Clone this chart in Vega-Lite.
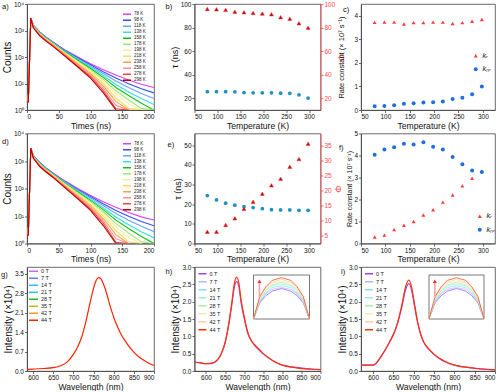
{
"$schema": "https://vega.github.io/schema/vega-lite/v6.json",
"padding": {"left": 0, "top": 0, "right": 0, "bottom": 0},
"background": "white",
"config": {
  "font": "Liberation Sans",
  "view": {"stroke": "#444", "strokeWidth": 0.8},
  "axis": {"labelFontSize": 6.5, "titleFontSize": 8.6, "titleFontWeight": "normal", "labelColor": "#111", "titleColor": "#111", "domainColor": "#444", "tickColor": "#444", "tickSize": 2.5, "grid": false, "labelPadding": 1, "titlePadding": 1, "domainWidth": 0.8, "tickWidth": 0.8},
  "title": {"fontSize": 7.5, "fontWeight": "normal", "anchor": "start", "frame": "group", "color": "#111"},
  "legend": {"title": null, "padding": 0, "labelColor": "#222"}
},
"datasets": {
  "decay": [
    {"T":78,"t":0,"c":2},{"T":78,"t":2,"c":2},{"T":78,"t":6,"c":2950},{"T":78,"t":10,"c":1585},{"T":78,"t":20,"c":891},{"T":78,"t":30,"c":562},{"T":78,"t":40,"c":380},{"T":78,"t":50,"c":263},{"T":78,"t":60,"c":186},{"T":78,"t":80,"c":100},{"T":78,"t":100,"c":56},{"T":78,"t":120,"c":33},{"T":78,"t":140,"c":21},{"T":78,"t":160,"c":13.5},{"T":78,"t":180,"c":9.3},{"T":78,"t":200,"c":7.1},
    {"T":98,"t":0,"c":2},{"T":98,"t":2,"c":2},{"T":98,"t":6,"c":2950},{"T":98,"t":10,"c":1556},{"T":98,"t":20,"c":867},{"T":98,"t":30,"c":547},{"T":98,"t":40,"c":369},{"T":98,"t":50,"c":254},{"T":98,"t":60,"c":178},{"T":98,"t":80,"c":93},{"T":98,"t":100,"c":51},{"T":98,"t":120,"c":28},{"T":98,"t":140,"c":16},{"T":98,"t":160,"c":9.7},{"T":98,"t":180,"c":6.3},{"T":98,"t":200,"c":4.4},
    {"T":118,"t":0,"c":2},{"T":118,"t":2,"c":2},{"T":118,"t":6,"c":2950},{"T":118,"t":10,"c":1528},{"T":118,"t":20,"c":843},{"T":118,"t":30,"c":532},{"T":118,"t":40,"c":358},{"T":118,"t":50,"c":244},{"T":118,"t":60,"c":170},{"T":118,"t":80,"c":87},{"T":118,"t":100,"c":46},{"T":118,"t":120,"c":24},{"T":118,"t":140,"c":12.4},{"T":118,"t":160,"c":7},{"T":118,"t":180,"c":4.2},{"T":118,"t":200,"c":2.7},
    {"T":138,"t":0,"c":2},{"T":138,"t":2,"c":2},{"T":138,"t":6,"c":2950},{"T":138,"t":10,"c":1496},{"T":138,"t":20,"c":818},{"T":138,"t":30,"c":516},{"T":138,"t":40,"c":347},{"T":138,"t":50,"c":234},{"T":138,"t":60,"c":161},{"T":138,"t":80,"c":80},{"T":138,"t":100,"c":41},{"T":138,"t":120,"c":20},{"T":138,"t":140,"c":9.2},{"T":138,"t":160,"c":4.8},{"T":138,"t":180,"c":2.7},{"T":138,"t":200,"c":1.6},
    {"T":158,"t":0,"c":2},{"T":158,"t":2,"c":2},{"T":158,"t":6,"c":2950},{"T":158,"t":10,"c":1469},{"T":158,"t":20,"c":794},{"T":158,"t":30,"c":501},{"T":158,"t":40,"c":337},{"T":158,"t":50,"c":226},{"T":158,"t":60,"c":154},{"T":158,"t":80,"c":75},{"T":158,"t":100,"c":37},{"T":158,"t":120,"c":17},{"T":158,"t":140,"c":7.1},{"T":158,"t":160,"c":3.5},{"T":158,"t":180,"c":1.8},{"T":158,"t":200,"c":1},
    {"T":178,"t":0,"c":2},{"T":178,"t":2,"c":2},{"T":178,"t":6,"c":2950},{"T":178,"t":10,"c":1439},{"T":178,"t":20,"c":771},{"T":178,"t":30,"c":486},{"T":178,"t":40,"c":326},{"T":178,"t":50,"c":217},{"T":178,"t":60,"c":146},{"T":178,"t":80,"c":69},{"T":178,"t":100,"c":33},{"T":178,"t":120,"c":14.3},{"T":178,"t":140,"c":5.3},{"T":178,"t":160,"c":2.4},{"T":178,"t":180,"c":1.15},{"T":178,"t":200,"c":1},
    {"T":198,"t":0,"c":2},{"T":198,"t":2,"c":2},{"T":198,"t":6,"c":2950},{"T":198,"t":10,"c":1413},{"T":198,"t":20,"c":750},{"T":198,"t":30,"c":473},{"T":198,"t":40,"c":316},{"T":198,"t":50,"c":209},{"T":198,"t":60,"c":140},{"T":198,"t":80,"c":65},{"T":198,"t":100,"c":30},{"T":198,"t":120,"c":12.2},{"T":198,"t":140,"c":4.1},{"T":198,"t":160,"c":1.7},{"T":198,"t":180,"c":1},
    {"T":218,"t":0,"c":2},{"T":218,"t":2,"c":2},{"T":218,"t":6,"c":2950},{"T":218,"t":10,"c":1380},{"T":218,"t":20,"c":724},{"T":218,"t":30,"c":457},{"T":218,"t":40,"c":305},{"T":218,"t":50,"c":200},{"T":218,"t":60,"c":132},{"T":218,"t":80,"c":59},{"T":218,"t":100,"c":26},{"T":218,"t":120,"c":10},{"T":218,"t":140,"c":2.9},{"T":218,"t":160,"c":1.15},{"T":218,"t":180,"c":1},
    {"T":238,"t":0,"c":2},{"T":238,"t":2,"c":2},{"T":238,"t":6,"c":2950},{"T":238,"t":10,"c":1349},{"T":238,"t":20,"c":700},{"T":238,"t":30,"c":442},{"T":238,"t":40,"c":294},{"T":238,"t":50,"c":191},{"T":238,"t":60,"c":124},{"T":238,"t":80,"c":54},{"T":238,"t":100,"c":23},{"T":238,"t":120,"c":8.1},{"T":238,"t":140,"c":2.1},{"T":238,"t":160,"c":1},
    {"T":258,"t":0,"c":2},{"T":258,"t":2,"c":2},{"T":258,"t":6,"c":2950},{"T":258,"t":10,"c":1318},{"T":258,"t":20,"c":676},{"T":258,"t":30,"c":427},{"T":258,"t":40,"c":283},{"T":258,"t":50,"c":182},{"T":258,"t":60,"c":117},{"T":258,"t":80,"c":50},{"T":258,"t":100,"c":20},{"T":258,"t":120,"c":6.7},{"T":258,"t":140,"c":1.5},{"T":258,"t":160,"c":1},
    {"T":278,"t":0,"c":2},{"T":278,"t":2,"c":2},{"T":278,"t":6,"c":2950},{"T":278,"t":10,"c":1288},{"T":278,"t":20,"c":653},{"T":278,"t":30,"c":412},{"T":278,"t":40,"c":273},{"T":278,"t":50,"c":174},{"T":278,"t":60,"c":111},{"T":278,"t":80,"c":45},{"T":278,"t":100,"c":18},{"T":278,"t":120,"c":5.5},{"T":278,"t":140,"c":1.1},{"T":278,"t":160,"c":1},
    {"T":298,"t":0,"c":2},{"T":298,"t":2,"c":2},{"T":298,"t":6,"c":2950},{"T":298,"t":10,"c":1259},{"T":298,"t":20,"c":631},{"T":298,"t":30,"c":398},{"T":298,"t":40,"c":263},{"T":298,"t":50,"c":166},{"T":298,"t":60,"c":105},{"T":298,"t":80,"c":42},{"T":298,"t":100,"c":16},{"T":298,"t":120,"c":4.5},{"T":298,"t":140,"c":1}
  ],
  "tb": [
    {"T":78,"tau":25.6,"phi":95.8},{"T":98,"tau":25.6,"phi":95.5},{"T":118,"tau":25.6,"phi":95.0},{"T":138,"tau":25.4,"phi":93.5},{"T":158,"tau":24.8,"phi":93.0},{"T":178,"tau":24.6,"phi":92.4},{"T":198,"tau":24.6,"phi":91.9},{"T":218,"tau":24.6,"phi":91.3},{"T":238,"tau":24.3,"phi":88.8},{"T":258,"tau":24.2,"phi":87.4},{"T":278,"tau":22.9,"phi":83.7},{"T":298,"tau":20.1,"phi":79.8}
  ],
  "te": [
    {"T":78,"tau":24.4,"phi":6.1},{"T":98,"tau":22.2,"phi":6.1},{"T":118,"tau":20.5,"phi":8.4},{"T":138,"tau":19.5,"phi":10.6},{"T":158,"tau":18.8,"phi":13.8},{"T":178,"tau":18.3,"phi":16.1},{"T":198,"tau":17.7,"phi":18.8},{"T":218,"tau":17.2,"phi":21.6},{"T":238,"tau":17.1,"phi":23.8},{"T":258,"tau":17.1,"phi":27.8},{"T":278,"tau":16.9,"phi":30.4},{"T":298,"tau":16.9,"phi":35.5}
  ],
  "kc": [
    {"T":78,"k":"kr","v":3.72},{"T":98,"k":"kr","v":3.73},{"T":118,"k":"kr","v":3.73},{"T":138,"k":"kr","v":3.65},{"T":158,"k":"kr","v":3.71},{"T":178,"k":"kr","v":3.71},{"T":198,"k":"kr","v":3.73},{"T":218,"k":"kr","v":3.73},{"T":238,"k":"kr","v":3.67},{"T":258,"k":"kr","v":3.71},{"T":278,"k":"kr","v":3.77},{"T":298,"k":"kr","v":3.84},
    {"T":78,"k":"knr","v":0.16},{"T":98,"k":"knr","v":0.17},{"T":118,"k":"knr","v":0.2},{"T":138,"k":"knr","v":0.27},{"T":158,"k":"knr","v":0.29},{"T":178,"k":"knr","v":0.32},{"T":198,"k":"knr","v":0.33},{"T":218,"k":"knr","v":0.36},{"T":238,"k":"knr","v":0.47},{"T":258,"k":"knr","v":0.52},{"T":278,"k":"knr","v":0.67},{"T":298,"k":"knr","v":1.0}
  ],
  "kf": [
    {"T":78,"k":"kr","v":0.3},{"T":98,"k":"kr","v":0.38},{"T":118,"k":"kr","v":0.63},{"T":138,"k":"kr","v":0.83},{"T":158,"k":"kr","v":1.0},{"T":178,"k":"kr","v":1.3},{"T":198,"k":"kr","v":1.53},{"T":218,"k":"kr","v":1.88},{"T":238,"k":"kr","v":2.2},{"T":258,"k":"kr","v":2.62},{"T":278,"k":"kr","v":2.97},{"T":298,"k":"kr","v":3.28},
    {"T":78,"k":"knr","v":4.03},{"T":98,"k":"knr","v":4.27},{"T":118,"k":"knr","v":4.38},{"T":138,"k":"knr","v":4.53},{"T":158,"k":"knr","v":4.5},{"T":178,"k":"knr","v":4.6},{"T":198,"k":"knr","v":4.4},{"T":218,"k":"knr","v":4.27},{"T":238,"k":"knr","v":3.93},{"T":258,"k":"knr","v":3.6},{"T":278,"k":"knr","v":3.32},{"T":298,"k":"knr","v":3.25}
  ],
  "pg": [
    {"B":44,"w":585,"v":0.06},{"B":44,"w":600,"v":0.07},{"B":44,"w":625,"v":0.09},{"B":44,"w":650,"v":0.12},{"B":44,"w":670,"v":0.2},{"B":44,"w":685,"v":0.33},{"B":44,"w":700,"v":0.6},{"B":44,"w":710,"v":0.85},{"B":44,"w":720,"v":1.2},{"B":44,"w":730,"v":1.72},{"B":44,"w":740,"v":2.37},{"B":44,"w":750,"v":2.98},{"B":44,"w":757,"v":3.28},{"B":44,"w":763,"v":3.37},{"B":44,"w":768,"v":3.33},{"B":44,"w":775,"v":3.12},{"B":44,"w":780,"v":2.92},{"B":44,"w":790,"v":2.4},{"B":44,"w":800,"v":1.94},{"B":44,"w":810,"v":1.58},{"B":44,"w":820,"v":1.28},{"B":44,"w":830,"v":1.05},{"B":44,"w":840,"v":0.85},{"B":44,"w":850,"v":0.68},{"B":44,"w":860,"v":0.54},{"B":44,"w":870,"v":0.43},{"B":44,"w":885,"v":0.3},{"B":44,"w":900,"v":0.2}
  ],
  "ph": [
    {"B":0,"w":570,"v":0.26},{"B":0,"w":600,"v":0.21},{"B":0,"w":620,"v":0.24},{"B":0,"w":640,"v":0.5},{"B":0,"w":650,"v":0.8},{"B":0,"w":660,"v":1.35},{"B":0,"w":668,"v":1.93},{"B":0,"w":674,"v":2.4},{"B":0,"w":680,"v":2.58},{"B":0,"w":686,"v":2.44},{"B":0,"w":692,"v":1.97},{"B":0,"w":700,"v":1.53},{"B":0,"w":710,"v":1.07},{"B":0,"w":720,"v":0.85},{"B":0,"w":750,"v":0.5},{"B":0,"w":800,"v":0.17},{"B":0,"w":900,"v":0.04},
    {"B":44,"w":570,"v":0.26},{"B":44,"w":585,"v":0.24},{"B":44,"w":600,"v":0.21},{"B":44,"w":610,"v":0.21},{"B":44,"w":620,"v":0.24},{"B":44,"w":630,"v":0.32},{"B":44,"w":640,"v":0.5},{"B":44,"w":650,"v":0.82},{"B":44,"w":660,"v":1.39},{"B":44,"w":668,"v":2.0},{"B":44,"w":674,"v":2.5},{"B":44,"w":680,"v":2.71},{"B":44,"w":686,"v":2.55},{"B":44,"w":692,"v":2.05},{"B":44,"w":700,"v":1.58},{"B":44,"w":710,"v":1.1},{"B":44,"w":720,"v":0.86},{"B":44,"w":730,"v":0.73},{"B":44,"w":740,"v":0.62},{"B":44,"w":750,"v":0.5},{"B":44,"w":775,"v":0.3},{"B":44,"w":800,"v":0.17},{"B":44,"w":825,"v":0.11},{"B":44,"w":850,"v":0.07},{"B":44,"w":875,"v":0.05},{"B":44,"w":900,"v":0.04}
  ],
  "pi": [
    {"B":0,"w":570,"v":0.17},{"B":0,"w":600,"v":0.17},{"B":0,"w":620,"v":0.43},{"B":0,"w":640,"v":0.83},{"B":0,"w":660,"v":1.37},{"B":0,"w":670,"v":1.82},{"B":0,"w":680,"v":2.35},{"B":0,"w":688,"v":2.52},{"B":0,"w":695,"v":2.31},{"B":0,"w":700,"v":1.99},{"B":0,"w":710,"v":1.36},{"B":0,"w":720,"v":0.95},{"B":0,"w":750,"v":0.48},{"B":0,"w":800,"v":0.17},{"B":0,"w":900,"v":0.03},
    {"B":44,"w":570,"v":0.17},{"B":44,"w":585,"v":0.17},{"B":44,"w":600,"v":0.17},{"B":44,"w":610,"v":0.26},{"B":44,"w":620,"v":0.43},{"B":44,"w":630,"v":0.62},{"B":44,"w":640,"v":0.83},{"B":44,"w":650,"v":1.05},{"B":44,"w":660,"v":1.39},{"B":44,"w":670,"v":1.87},{"B":44,"w":680,"v":2.44},{"B":44,"w":688,"v":2.62},{"B":44,"w":695,"v":2.4},{"B":44,"w":700,"v":2.06},{"B":44,"w":710,"v":1.39},{"B":44,"w":720,"v":0.96},{"B":44,"w":725,"v":0.82},{"B":44,"w":740,"v":0.6},{"B":44,"w":750,"v":0.48},{"B":44,"w":775,"v":0.29},{"B":44,"w":800,"v":0.17},{"B":44,"w":850,"v":0.08},{"B":44,"w":900,"v":0.03}
  ],
  "inset": [
    {"B":0,"w":671,"v":2.25},{"B":0,"w":673,"v":2.43},{"B":0,"w":675,"v":2.51},{"B":0,"w":677,"v":2.56},{"B":0,"w":680,"v":2.59},{"B":0,"w":683,"v":2.56},{"B":0,"w":685,"v":2.51},{"B":0,"w":687,"v":2.43},{"B":0,"w":689,"v":2.25},
    {"B":7,"w":671,"v":2.25},{"B":7,"w":673,"v":2.44},{"B":7,"w":675,"v":2.53},{"B":7,"w":677,"v":2.58},{"B":7,"w":680,"v":2.6},{"B":7,"w":683,"v":2.58},{"B":7,"w":685,"v":2.53},{"B":7,"w":687,"v":2.44},{"B":7,"w":689,"v":2.25},
    {"B":14,"w":671,"v":2.25},{"B":14,"w":673,"v":2.45},{"B":14,"w":675,"v":2.54},{"B":14,"w":677,"v":2.6},{"B":14,"w":680,"v":2.62},{"B":14,"w":683,"v":2.6},{"B":14,"w":685,"v":2.54},{"B":14,"w":687,"v":2.45},{"B":14,"w":689,"v":2.25},
    {"B":21,"w":671,"v":2.25},{"B":21,"w":673,"v":2.46},{"B":21,"w":675,"v":2.56},{"B":21,"w":677,"v":2.62},{"B":21,"w":680,"v":2.64},{"B":21,"w":683,"v":2.62},{"B":21,"w":685,"v":2.56},{"B":21,"w":687,"v":2.46},{"B":21,"w":689,"v":2.25},
    {"B":28,"w":671,"v":2.25},{"B":28,"w":673,"v":2.47},{"B":28,"w":675,"v":2.57},{"B":28,"w":677,"v":2.63},{"B":28,"w":680,"v":2.66},{"B":28,"w":683,"v":2.63},{"B":28,"w":685,"v":2.57},{"B":28,"w":687,"v":2.47},{"B":28,"w":689,"v":2.25},
    {"B":35,"w":671,"v":2.25},{"B":35,"w":673,"v":2.48},{"B":35,"w":675,"v":2.58},{"B":35,"w":677,"v":2.65},{"B":35,"w":680,"v":2.67},{"B":35,"w":683,"v":2.65},{"B":35,"w":685,"v":2.58},{"B":35,"w":687,"v":2.48},{"B":35,"w":689,"v":2.25},
    {"B":42,"w":671,"v":2.25},{"B":42,"w":673,"v":2.49},{"B":42,"w":675,"v":2.6},{"B":42,"w":677,"v":2.66},{"B":42,"w":680,"v":2.69},{"B":42,"w":683,"v":2.66},{"B":42,"w":685,"v":2.6},{"B":42,"w":687,"v":2.49},{"B":42,"w":689,"v":2.25},
    {"B":44,"w":671,"v":2.25},{"B":44,"w":673,"v":2.5},{"B":44,"w":675,"v":2.61},{"B":44,"w":677,"v":2.68},{"B":44,"w":680,"v":2.71},{"B":44,"w":683,"v":2.68},{"B":44,"w":685,"v":2.61},{"B":44,"w":687,"v":2.5},{"B":44,"w":689,"v":2.25}
  ],
  "ibox": [{"x1":671,"x2":689,"y1":2.25,"y2":2.74}],
  "arrow": [{"w":672.9,"lo":2.5,"hi":2.66}],
  "arrowhead": [{"w":672.9,"v":2.67}]
},
"concat": [
  {
    "width": 127, "height": 106,
    "title": {"text": "a)", "dx": -25, "offset": -9},
    "data": {"name": "decay"},
    "mark": {"type": "line", "strokeWidth": 1.1, "clip": true},
    "encoding": {
      "x": {"field": "t", "type": "quantitative", "scale": {"domain": [0, 200], "nice": false}, "axis": {"values": [0, 50, 100, 150, 200], "title": "Times (ns)"}},
      "y": {"field": "c", "type": "quantitative", "scale": {"type": "log", "domain": [1, 10000], "nice": false}, "axis": {"values": [1, 10, 100, 1000, 10000], "title": "Counts", "titleFontSize": 10, "labelExpr": "datum.value >= 10000 ? '10⁴' : datum.value >= 1000 ? '10³' : datum.value >= 100 ? '10²' : datum.value >= 10 ? '10¹' : '10⁰'"}},
      "color": {"field": "T", "type": "ordinal", "scale": {"domain": [78, 98, 118, 138, 158, 178, 198, 218, 238, 258, 278, 298], "range": ["#e040e8", "#3050ff", "#70a0ff", "#30e0e0", "#10c010", "#a0e870", "#f0f0a0", "#ffd860", "#ffa040", "#ff9090", "#ff4040", "#c00000"]}, "legend": {"orient": "top-right", "offset": 8, "symbolType": "stroke", "symbolSize": 64, "symbolStrokeWidth": 1.5, "clipHeight": 4.6, "labelFontSize": 4.5, "rowPadding": 0, "labelOffset": 2, "labelExpr": "datum.label + ' K'"}}
    }
  },
  {
    "width": 126, "height": 106,
    "title": {"text": "b)", "dx": -29, "offset": -9},
    "data": {"name": "tb"},
    "encoding": {"x": {"field": "T", "type": "quantitative", "scale": {"domain": [50, 325], "nice": false, "zero": false}, "axis": {"values": [50, 100, 150, 200, 250, 300], "title": "Temperature (K)"}}},
    "layer": [
      {"mark": {"type": "point", "shape": "circle", "filled": true, "size": 14, "color": "#1f8fc4", "opacity": 1}, "encoding": {"y": {"field": "tau", "type": "quantitative", "scale": {"domain": [10, 100], "nice": false, "zero": false}, "axis": {"values": [20, 40, 60, 80, 100], "title": "τ (ns)", "titleFontSize": 9}}}},
      {"mark": {"type": "point", "shape": "triangle-up", "filled": true, "size": 16, "color": "#b01010", "stroke": "#ff3030", "strokeWidth": 0.5, "opacity": 1}, "encoding": {"y": {"field": "phi", "type": "quantitative", "scale": {"domain": [10, 100], "nice": false, "zero": false}, "axis": {"orient": "right", "values": [20, 40, 60, 80, 100], "title": "Φ", "titleFontSize": 9, "labelColor": "#ff4a4a", "titleColor": "#ff4a4a", "domainColor": "#ff4a4a", "tickColor": "#ff4a4a"}}}}
    ],
    "resolve": {"scale": {"y": "independent"}}
  },
  {
    "width": 134, "height": 106,
    "title": {"text": "c)", "dx": -18, "offset": -9},
    "data": {"name": "kc"},
    "mark": {"type": "point", "filled": true, "size": 16, "opacity": 1},
    "encoding": {
      "x": {"field": "T", "type": "quantitative", "scale": {"domain": [50, 325], "nice": false, "zero": false}, "axis": {"values": [50, 100, 150, 200, 250, 300], "title": "Temperature (K)"}},
      "y": {"field": "v", "type": "quantitative", "scale": {"domain": [0, 4.5], "nice": false}, "axis": {"values": [0, 1, 2, 3, 4], "title": "Rate constant (× 10⁷ s⁻¹)", "titleFontSize": 7.5, "titlePadding": 8}},
      "color": {"field": "k", "type": "nominal", "scale": {"domain": ["kr", "knr"], "range": ["#ff3b3b", "#1f6fe0"]}, "legend": {"orient": "none", "legendX": 111, "legendY": 48, "labelFontSize": 7.5, "labelFontStyle": "italic", "symbolSize": 16, "rowPadding": 4.5, "labelOffset": 3, "labelExpr": "datum.value == 'kr' ? 'kᵣ' : 'kₙᵣ'"}},
      "shape": {"field": "k", "type": "nominal", "scale": {"domain": ["kr", "knr"], "range": ["triangle-up", "circle"]}, "legend": {"orient": "none", "legendX": 111, "legendY": 48, "labelFontSize": 7.5, "labelFontStyle": "italic", "symbolSize": 16, "rowPadding": 4.5, "labelOffset": 3, "labelExpr": "datum.value == 'kr' ? 'kᵣ' : 'kₙᵣ'"}}
    }
  },
  {
    "width": 127, "height": 110,
    "title": {"text": "d)", "dx": -25, "offset": -15},
    "data": {"name": "decay"},
    "mark": {"type": "line", "strokeWidth": 1.1, "clip": true},
    "encoding": {
      "x": {"field": "t", "type": "quantitative", "scale": {"domain": [0, 200], "nice": false}, "axis": {"values": [0, 50, 100, 150, 200], "title": "Times (ns)"}},
      "y": {"field": "c", "type": "quantitative", "scale": {"type": "log", "domain": [1, 10000], "nice": false}, "axis": {"values": [1, 10, 100, 1000, 10000], "title": "Counts", "titleFontSize": 10, "labelExpr": "datum.value >= 10000 ? '10⁴' : datum.value >= 1000 ? '10³' : datum.value >= 100 ? '10²' : datum.value >= 10 ? '10¹' : '10⁰'"}},
      "color": {"field": "T", "type": "ordinal", "scale": {"domain": [78, 98, 118, 138, 158, 178, 198, 218, 238, 258, 278, 298], "range": ["#e040e8", "#3050ff", "#70a0ff", "#30e0e0", "#10c010", "#a0e870", "#f0f0a0", "#ffd860", "#ffa040", "#ff9090", "#ff4040", "#c00000"]}, "legend": {"orient": "top-right", "offset": 8, "symbolType": "stroke", "symbolSize": 64, "symbolStrokeWidth": 1.5, "clipHeight": 4.6, "labelFontSize": 4.5, "rowPadding": 0, "labelOffset": 2, "labelExpr": "datum.label + ' K'"}}
    }
  },
  {
    "width": 126, "height": 110,
    "title": {"text": "e)", "dx": -27, "offset": -15},
    "data": {"name": "te"},
    "encoding": {"x": {"field": "T", "type": "quantitative", "scale": {"domain": [50, 325], "nice": false, "zero": false}, "axis": {"values": [50, 100, 150, 200, 250, 300], "title": "Temperature (K)"}}},
    "layer": [
      {"mark": {"type": "point", "shape": "circle", "filled": true, "size": 14, "color": "#1f8fc4", "opacity": 1}, "encoding": {"y": {"field": "tau", "type": "quantitative", "scale": {"domain": [0, 56], "nice": false}, "axis": {"values": [0, 10, 20, 30, 40, 50], "title": "τ (ns)", "titleFontSize": 9}}}},
      {"mark": {"type": "point", "shape": "triangle-up", "filled": true, "size": 16, "color": "#b01010", "stroke": "#ff3030", "strokeWidth": 0.5, "opacity": 1}, "encoding": {"y": {"field": "phi", "type": "quantitative", "scale": {"domain": [2.2, 38.9], "nice": false, "zero": false}, "axis": {"orient": "right", "values": [5, 10, 15, 20, 25, 30, 35], "title": "Φ", "titleFontSize": 9, "labelColor": "#ff4a4a", "titleColor": "#ff4a4a", "domainColor": "#ff4a4a", "tickColor": "#ff4a4a"}}}}
    ],
    "resolve": {"scale": {"y": "independent"}}
  },
  {
    "width": 134, "height": 110,
    "title": {"text": "f)", "dx": -22, "offset": -21},
    "data": {"name": "kf"},
    "mark": {"type": "point", "filled": true, "size": 16, "opacity": 1},
    "encoding": {
      "x": {"field": "T", "type": "quantitative", "scale": {"domain": [50, 325], "nice": false, "zero": false}, "axis": {"values": [50, 100, 150, 200, 250, 300], "title": "Temperature (K)"}},
      "y": {"field": "v", "type": "quantitative", "scale": {"domain": [0, 5], "nice": false}, "axis": {"values": [0, 1, 2, 3, 4, 5], "title": "Rate constant (× 10⁷ s⁻¹)", "titleFontSize": 7}},
      "color": {"field": "k", "type": "nominal", "scale": {"domain": ["kr", "knr"], "range": ["#ff3b3b", "#1f6fe0"]}, "legend": {"orient": "none", "legendX": 115, "legendY": 79, "labelFontSize": 7.5, "labelFontStyle": "italic", "symbolSize": 16, "rowPadding": 4.5, "labelOffset": 3, "labelExpr": "datum.value == 'kr' ? 'kᵣ' : 'kₙᵣ'"}},
      "shape": {"field": "k", "type": "nominal", "scale": {"domain": ["kr", "knr"], "range": ["triangle-up", "circle"]}, "legend": {"orient": "none", "legendX": 115, "legendY": 79, "labelFontSize": 7.5, "labelFontStyle": "italic", "symbolSize": 16, "rowPadding": 4.5, "labelOffset": 3, "labelExpr": "datum.value == 'kr' ? 'kᵣ' : 'kₙᵣ'"}}
    }
  },
  {
    "width": 127, "height": 104,
    "title": {"text": "g)", "dx": -26, "offset": -11},
    "data": {"name": "pg"},
    "mark": {"type": "line", "strokeWidth": 1.2, "interpolate": "monotone"},
    "encoding": {
      "x": {"field": "w", "type": "quantitative", "scale": {"domain": [585, 900], "nice": false, "zero": false}, "axis": {"values": [600, 650, 700, 750, 800, 850, 900], "title": "Wavelength (nm)"}},
      "y": {"field": "v", "type": "quantitative", "scale": {"domain": [0, 3.75], "nice": false}, "axis": {"values": [0, 0.7, 1.4, 2.1, 2.8, 3.5], "format": ".1f", "title": "Intensity (×10⁴)", "titleFontSize": 10}},
      "color": {"field": "B", "type": "ordinal", "scale": {"domain": [0, 7, 14, 21, 28, 35, 42, 44], "range": ["#cc66ff", "#6680ff", "#33bbff", "#22d4d4", "#22bb22", "#bbbb22", "#ff9933", "#ff2200"]}, "legend": {"orient": "top-left", "offset": 1, "symbolType": "stroke", "symbolSize": 81, "symbolStrokeWidth": 1.5, "clipHeight": 6.5, "labelFontSize": 5.5, "rowPadding": 0, "labelOffset": 2, "labelExpr": "datum.label + ' T'"}}
    }
  },
  {
    "width": 126, "height": 104,
    "title": {"text": "h)", "dx": -29, "offset": -11},
    "layer": [
      {
        "data": {"name": "ph"},
        "mark": {"type": "line", "strokeWidth": 1.2, "interpolate": "monotone"},
        "encoding": {
          "x": {"field": "w", "type": "quantitative", "scale": {"domain": [570, 900], "nice": false, "zero": false}, "axis": {"values": [600, 650, 700, 750, 800, 850, 900], "title": "Wavelength (nm)"}},
          "y": {"field": "v", "type": "quantitative", "scale": {"domain": [0, 3], "nice": false}, "axis": {"values": [0, 0.5, 1, 1.5, 2, 2.5, 3], "format": ".1f", "title": "Intensity (×10⁴)", "titleFontSize": 10}},
          "color": {"field": "B", "type": "ordinal", "scale": {"domain": [0, 7, 14, 21, 28, 35, 42, 44], "range": ["#a040ff", "#aabbff", "#88ddee", "#99eedd", "#aaeeaa", "#eeeeaa", "#ffccaa", "#ff3300"]}, "legend": {"orient": "top-left", "offset": 3, "symbolType": "stroke", "symbolSize": 64, "symbolStrokeWidth": 1.5, "clipHeight": 7.6, "labelFontSize": 5.5, "rowPadding": 0, "labelOffset": 2, "labelExpr": "datum.label + ' T'"}}
        }
      },
      {
        "layer": [
          {"data": {"name": "ibox"}, "mark": {"type": "rect", "fill": "white", "stroke": "#555", "strokeWidth": 0.8},
           "encoding": {"x": {"field": "x1", "type": "quantitative", "scale": {"domain": [671, 689], "range": [59, 115], "nice": false, "zero": false}, "axis": null}, "x2": {"field": "x2"}, "y": {"field": "y1", "type": "quantitative", "scale": {"domain": [2.25, 2.74], "range": [52, 8], "nice": false, "zero": false}, "axis": null}, "y2": {"field": "y2"}}},
          {"data": {"name": "inset"}, "mark": {"type": "line", "strokeWidth": 0.7},
           "encoding": {"x": {"field": "w", "type": "quantitative", "scale": {"domain": [671, 689], "range": [59, 115], "nice": false, "zero": false}, "axis": null}, "y": {"field": "v", "type": "quantitative", "scale": {"domain": [2.25, 2.74], "range": [52, 8], "nice": false, "zero": false}, "axis": null}, "color": {"field": "B", "type": "ordinal", "legend": null}}},
          {"data": {"name": "arrow"}, "mark": {"type": "rule", "stroke": "#ff9c9c", "strokeWidth": 1.5},
           "encoding": {"x": {"field": "w", "type": "quantitative"}, "y": {"field": "lo", "type": "quantitative"}, "y2": {"field": "hi"}}},
          {"data": {"name": "arrowhead"}, "mark": {"type": "point", "shape": "triangle-up", "filled": true, "size": 16, "color": "#ff2a2a", "opacity": 1},
           "encoding": {"x": {"field": "w", "type": "quantitative"}, "y": {"field": "v", "type": "quantitative"}}}
        ]
      }
    ],
    "resolve": {"scale": {"x": "independent", "y": "independent"}}
  },
  {
    "width": 134, "height": 104,
    "title": {"text": "i)", "dx": -20, "offset": -11},
    "layer": [
      {
        "data": {"name": "pi"},
        "mark": {"type": "line", "strokeWidth": 1.2, "interpolate": "monotone"},
        "encoding": {
          "x": {"field": "w", "type": "quantitative", "scale": {"domain": [570, 900], "nice": false, "zero": false}, "axis": {"values": [600, 650, 700, 750, 800, 850, 900], "title": "Wavelength (nm)"}},
          "y": {"field": "v", "type": "quantitative", "scale": {"domain": [0, 3], "nice": false}, "axis": {"values": [0, 0.5, 1, 1.5, 2, 2.5, 3], "format": ".1f", "title": "Intensity (×10⁴)", "titleFontSize": 10}},
          "color": {"field": "B", "type": "ordinal", "scale": {"domain": [0, 7, 14, 21, 28, 35, 42, 44], "range": ["#a040ff", "#aabbff", "#88ddee", "#99eedd", "#aaeeaa", "#eeeeaa", "#ffccaa", "#ff3300"]}, "legend": {"orient": "top-left", "offset": 3, "symbolType": "stroke", "symbolSize": 64, "symbolStrokeWidth": 1.5, "clipHeight": 7.6, "labelFontSize": 5.5, "rowPadding": 0, "labelOffset": 2, "labelExpr": "datum.label + ' T'"}}
        }
      },
      {
        "layer": [
          {"data": {"name": "ibox"}, "mark": {"type": "rect", "fill": "white", "stroke": "#555", "strokeWidth": 0.8},
           "encoding": {"x": {"field": "x1", "type": "quantitative", "scale": {"domain": [671, 689], "range": [68, 123], "nice": false, "zero": false}, "axis": null}, "x2": {"field": "x2"}, "y": {"field": "y1", "type": "quantitative", "scale": {"domain": [2.25, 2.74], "range": [52, 8], "nice": false, "zero": false}, "axis": null}, "y2": {"field": "y2"}}},
          {"data": {"name": "inset"}, "mark": {"type": "line", "strokeWidth": 0.7},
           "encoding": {"x": {"field": "w", "type": "quantitative", "scale": {"domain": [671, 689], "range": [68, 123], "nice": false, "zero": false}, "axis": null}, "y": {"field": "v", "type": "quantitative", "scale": {"domain": [2.25, 2.74], "range": [52, 8], "nice": false, "zero": false}, "axis": null}, "color": {"field": "B", "type": "ordinal", "legend": null}}},
          {"data": {"name": "arrow"}, "mark": {"type": "rule", "stroke": "#ff9c9c", "strokeWidth": 1.5},
           "encoding": {"x": {"field": "w", "type": "quantitative"}, "y": {"field": "lo", "type": "quantitative"}, "y2": {"field": "hi"}}},
          {"data": {"name": "arrowhead"}, "mark": {"type": "point", "shape": "triangle-up", "filled": true, "size": 16, "color": "#ff2a2a", "opacity": 1},
           "encoding": {"x": {"field": "w", "type": "quantitative"}, "y": {"field": "v", "type": "quantitative"}}}
        ]
      }
    ],
    "resolve": {"scale": {"x": "independent", "y": "independent"}}
  }
],
"columns": 3,
"spacing": {"row": 23.5, "column": 40.5},
"bounds": "flush",
"resolve": {"scale": {"color": "independent", "shape": "independent"}, "legend": {"color": "independent", "shape": "independent"}}
}
